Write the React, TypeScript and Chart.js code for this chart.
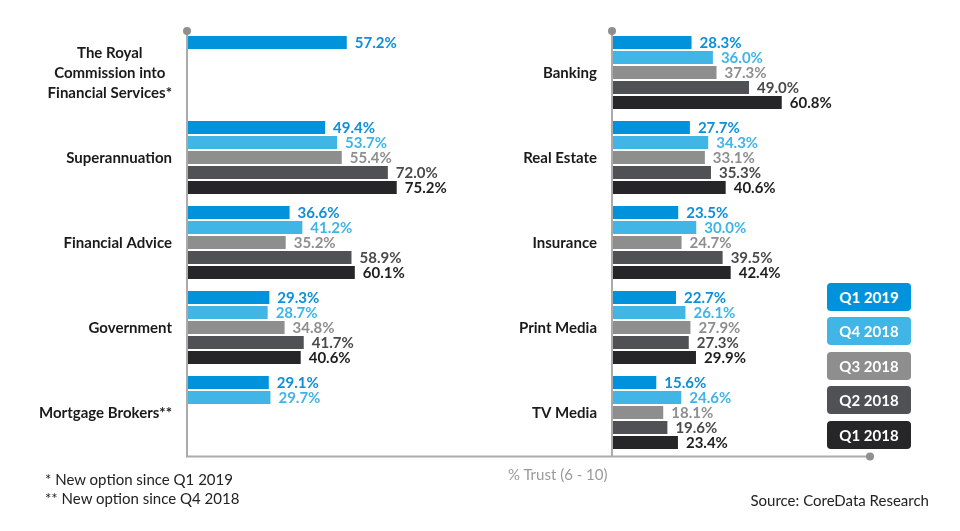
import React, { useEffect, useRef } from "react";
import { Chart, registerables } from "chart.js";

Chart.register(...registerables);

// ---- Data ----
const SERIES = ["Q1 2019", "Q4 2018", "Q3 2018", "Q2 2018", "Q1 2018"];
const BAR_COLORS = ["#0092db", "#41b6e6", "#8e8e8e", "#505155", "#262628"];
const LABEL_COLORS = ["#0b8fd9", "#3fb4e6", "#8e8e8e", "#4a4a4a", "#1e1e1e"];

const leftCategories: (string | string[])[] = [
  ["The Royal", "Commission into", "Financial Services*"],
  "Superannuation",
  "Financial Advice",
  "Government",
  "Mortgage Brokers**",
];
const leftQ1_2019 = [57.2, 49.4, 36.6, 29.3, 29.1];
const leftQ4_2018 = [null, 53.7, 41.2, 28.7, 29.7];
const leftQ3_2018 = [null, 55.4, 35.2, 34.8, null];
const leftQ2_2018 = [null, 72.0, 58.9, 41.7, null];
const leftQ1_2018 = [null, 75.2, 60.1, 40.6, null];

const rightCategories: (string | string[])[] = [
  "Banking",
  "Real Estate",
  "Insurance",
  "Print Media",
  "TV Media",
];
const rightQ1_2019 = [28.3, 27.7, 23.5, 22.7, 15.6];
const rightQ4_2018 = [36.0, 34.3, 30.0, 26.1, 24.6];
const rightQ3_2018 = [37.3, 33.1, 24.7, 27.9, 18.1];
const rightQ2_2018 = [49.0, 35.3, 39.5, 27.3, 19.6];
const rightQ1_2018 = [60.8, 40.6, 42.4, 29.9, 23.4];

const AXIS_TITLE = "% Trust (6 - 10)";
const FOOTNOTES = ["* New option since Q1 2019", "** New option since Q4 2018"];
const SOURCE = "Source: CoreData Research";

const FONT = "Lato, 'Open Sans', sans-serif";
const AXIS_COLOR = "#ababab";
const DOT_COLOR = "#8f8f8f";

type Side = "left" | "right";

function makePlugin(side: Side, categories: (string | string[])[]) {
  return {
    id: "decor-" + side,
    beforeDatasetsDraw(chart: any) {
      const { ctx, chartArea } = chart;
      const ax = chartArea.left - 1;
      const yLine = chartArea.bottom + 1.5;
      ctx.save();
      ctx.strokeStyle = AXIS_COLOR;
      ctx.lineWidth = 2;
      ctx.beginPath();
      ctx.moveTo(ax, chartArea.top + 1);
      ctx.lineTo(ax, yLine);
      ctx.stroke();
      ctx.beginPath();
      if (side === "left") {
        ctx.moveTo(ax - 1, yLine);
        ctx.lineTo(chart.width, yLine);
      } else {
        ctx.moveTo(0, yLine);
        ctx.lineTo(chartArea.right, yLine);
      }
      ctx.stroke();
      ctx.fillStyle = DOT_COLOR;
      ctx.beginPath();
      ctx.arc(ax, chartArea.top + 1, 4, 0, Math.PI * 2);
      ctx.fill();
      if (side === "right") {
        ctx.beginPath();
        ctx.arc(chartArea.right, yLine, 4, 0, Math.PI * 2);
        ctx.fill();
      }
      ctx.restore();
    },
    afterDatasetsDraw(chart: any) {
      const { ctx, chartArea } = chart;
      const yScale = chart.scales.y;
      ctx.save();
      ctx.font = `bold 15px ${FONT}`;
      ctx.fillStyle = "#1a1a1a";
      ctx.textBaseline = "middle";
      const rightEdge = chartArea.left - 16;
      categories.forEach((cat, i) => {
        const cy = yScale.getPixelForValue(i);
        if (Array.isArray(cat)) {
          const widths = cat.map((l) => ctx.measureText(l).width);
          const maxW = Math.max(...widths);
          const cx = rightEdge - maxW / 2;
          const lh = 20;
          ctx.textAlign = "center";
          cat.forEach((line, k) => {
            ctx.fillText(line, cx, cy + (k - (cat.length - 1) / 2) * lh + 1);
          });
        } else {
          ctx.textAlign = "right";
          ctx.fillText(cat, rightEdge, cy + 1);
        }
      });
      ctx.textAlign = "left";
      chart.data.datasets.forEach((ds: any, di: number) => {
        const meta = chart.getDatasetMeta(di);
        ctx.fillStyle = LABEL_COLORS[di];
        meta.data.forEach((el: any, j: number) => {
          const v = ds.data[j];
          if (v === null || v === undefined) return;
          ctx.fillText(v.toFixed(1) + "%", el.x + 8, el.y + 1);
        });
      });
      ctx.restore();
    },
  };
}

function BarPanel(props: {
  side: Side;
  categories: (string | string[])[];
  series: (number | null)[][];
  max: number;
  padding: { left: number; right: number; top: number; bottom: number };
  left: number;
}) {
  const ref = useRef<HTMLCanvasElement>(null);
  useEffect(() => {
    if (!ref.current) return;
    const chart = new Chart(ref.current, {
      type: "bar",
      data: {
        labels: props.categories.map((c) => (Array.isArray(c) ? c.join(" ") : c)),
        datasets: props.series.map((d, i) => ({
          label: SERIES[i],
          data: d,
          backgroundColor: BAR_COLORS[i],
          borderWidth: 0,
          categoryPercentage: 75 / 85,
          barPercentage: 13 / 15,
        })),
      },
      options: {
        indexAxis: "y",
        animation: false,
        responsive: false,
        maintainAspectRatio: false,
        devicePixelRatio: 1,
        layout: { padding: props.padding },
        plugins: { legend: { display: false }, tooltip: { enabled: false } },
        scales: {
          x: { display: false, min: 0, max: props.max },
          y: { display: false },
        },
      } as any,
      plugins: [makePlugin(props.side, props.categories)],
    });
    return () => chart.destroy();
  }, []);
  return (
    <canvas
      ref={ref}
      width={480}
      height={531}
      style={{ position: "absolute", left: props.left, top: 0, width: 480, height: 531, display: "block" }}
    />
  );
}

export default function App() {
  const textBase: React.CSSProperties = {
    position: "absolute",
    fontFamily: FONT,
    fontSize: 15,
    lineHeight: "18px",
    whiteSpace: "nowrap",
  };
  return (
    <div
      style={{
        position: "absolute",
        left: 0,
        top: 0,
        width: 960,
        height: 531,
        background: "#ffffff",
        overflow: "hidden",
      }}
    >
      <BarPanel
        side="left"
        categories={leftCategories}
        series={[leftQ1_2019, leftQ4_2018, leftQ3_2018, leftQ2_2018, leftQ1_2018]}
        max={105.2}
        padding={{ left: 188, right: 0, top: 30, bottom: 76 }}
        left={0}
      />
      <BarPanel
        side="right"
        categories={rightCategories}
        series={[rightQ1_2019, rightQ4_2018, rightQ3_2018, rightQ2_2018, rightQ1_2018]}
        max={92.6}
        padding={{ left: 133, right: 90, top: 30, bottom: 76 }}
        left={480}
      />
      {SERIES.map((s, i) => (
        <div
          key={s}
          style={{
            position: "absolute",
            left: 827,
            top: 283 + i * 34.4,
            width: 84,
            height: 28,
            borderRadius: 4,
            background: BAR_COLORS[i],
            color: "#ffffff",
            fontFamily: FONT,
            fontWeight: "bold",
            fontSize: 15,
            lineHeight: "28px",
            textAlign: "center",
          }}
        >
          {s}
        </div>
      ))}
      <div style={{ ...textBase, left: 508, top: 465, color: "#9a9a9a" }}>{AXIS_TITLE}</div>
      {FOOTNOTES.map((f, i) => (
        <div key={f} style={{ ...textBase, left: 45, top: 470 + i * 19, color: "#222222" }}>
          {f}
        </div>
      ))}
      <div style={{ ...textBase, right: 31, top: 491, color: "#222222" }}>{SOURCE}</div>
    </div>
  );
}
